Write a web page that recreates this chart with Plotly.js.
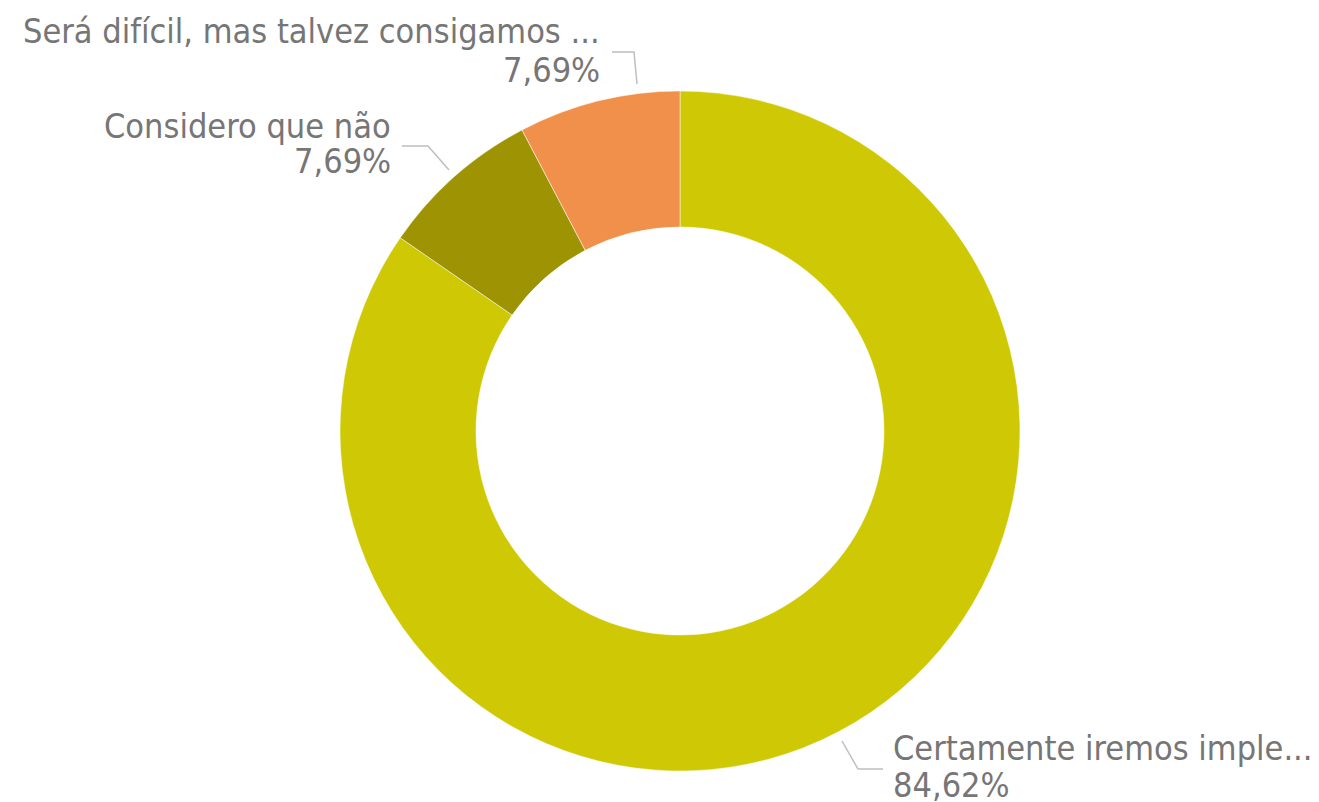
<!DOCTYPE html>
<html><head><meta charset="utf-8">
<script src="https://cdn.plot.ly/plotly-3.0.1.min.js"></script>
<style>html,body{margin:0;padding:0;background:#fff;}#chart{width:1319px;height:802px;}</style>
</head><body><div id="chart"></div>
<script>
var labels = ["Certamente iremos implementar", "Considero que não", "Será difícil, mas talvez consigamos implementar"];
var shortLabels = ["Certamente iremos imple...", "Considero que não", "Será difícil, mas talvez consigamos ..."];
var values = [84.62, 7.69, 7.69];
var pctText = ["84,62%", "7,69%", "7,69%"];
var colors = ["#CFC804", "#9E9403", "#F0904A"];

var W = 1319, H = 802;
function px(x){return x / W;}
function py(y){return 1 - y / H;}
var FONT = "DejaVu Sans Condensed, Liberation Sans Narrow, sans-serif";
var TXT = "#767676";
var FS = 34;

// label placement (layout only)
var place = [
  {x: 891, y1: 748, y2: 785, anchor: "left"},
  {x: 393, y1: 126, y2: 161, anchor: "right"},
  {x: 602, y1: 31, y2: 70, anchor: "right"}
];
var leaders = [
  [[842,741],[858,769],[883,769]],
  [[402,146],[428,146],[449,170]],
  [[612,52],[634,52],[637,84]]
];

var annotations = [], shapes = [];
for (var i = 0; i < labels.length; i++) {
  var p = place[i];
  annotations.push({xref:"paper", yref:"paper", x: px(p.x), y: py(p.y1), xanchor: p.anchor, yanchor: "middle",
    text: shortLabels[i], showarrow: false, font: {family: FONT, size: FS, color: TXT}});
  annotations.push({xref:"paper", yref:"paper", x: px(p.x), y: py(p.y2), xanchor: p.anchor, yanchor: "middle",
    text: pctText[i], showarrow: false, font: {family: FONT, size: FS, color: TXT}});
  var pts = leaders[i];
  var path = "M" + pts.map(function(q){return px(q[0]) + "," + py(q[1]);}).join(" L");
  shapes.push({type: "path", xref: "paper", yref: "paper", path: path, line: {color: "#BFBFBF", width: 1.5}});
}

var data = [{
  type: "pie",
  labels: labels,
  values: values,
  hole: 0.6,
  sort: false,
  direction: "clockwise",
  rotation: 0,
  marker: {colors: colors, line: {color: "#ffffff", width: 0.5}},
  textinfo: "none",
  textposition: "none",
  hoverinfo: "label+percent",
  domain: {x: [px(340), px(1020)], y: [py(771), py(91)]},
  showlegend: false
}];

var layout = {
  width: W, height: H,
  margin: {l: 0, r: 0, t: 0, b: 0},
  paper_bgcolor: "#ffffff",
  showlegend: false,
  annotations: annotations,
  shapes: shapes
};
Plotly.newPlot("chart", data, layout, {displayModeBar: false, staticPlot: true});
</script></body></html>
